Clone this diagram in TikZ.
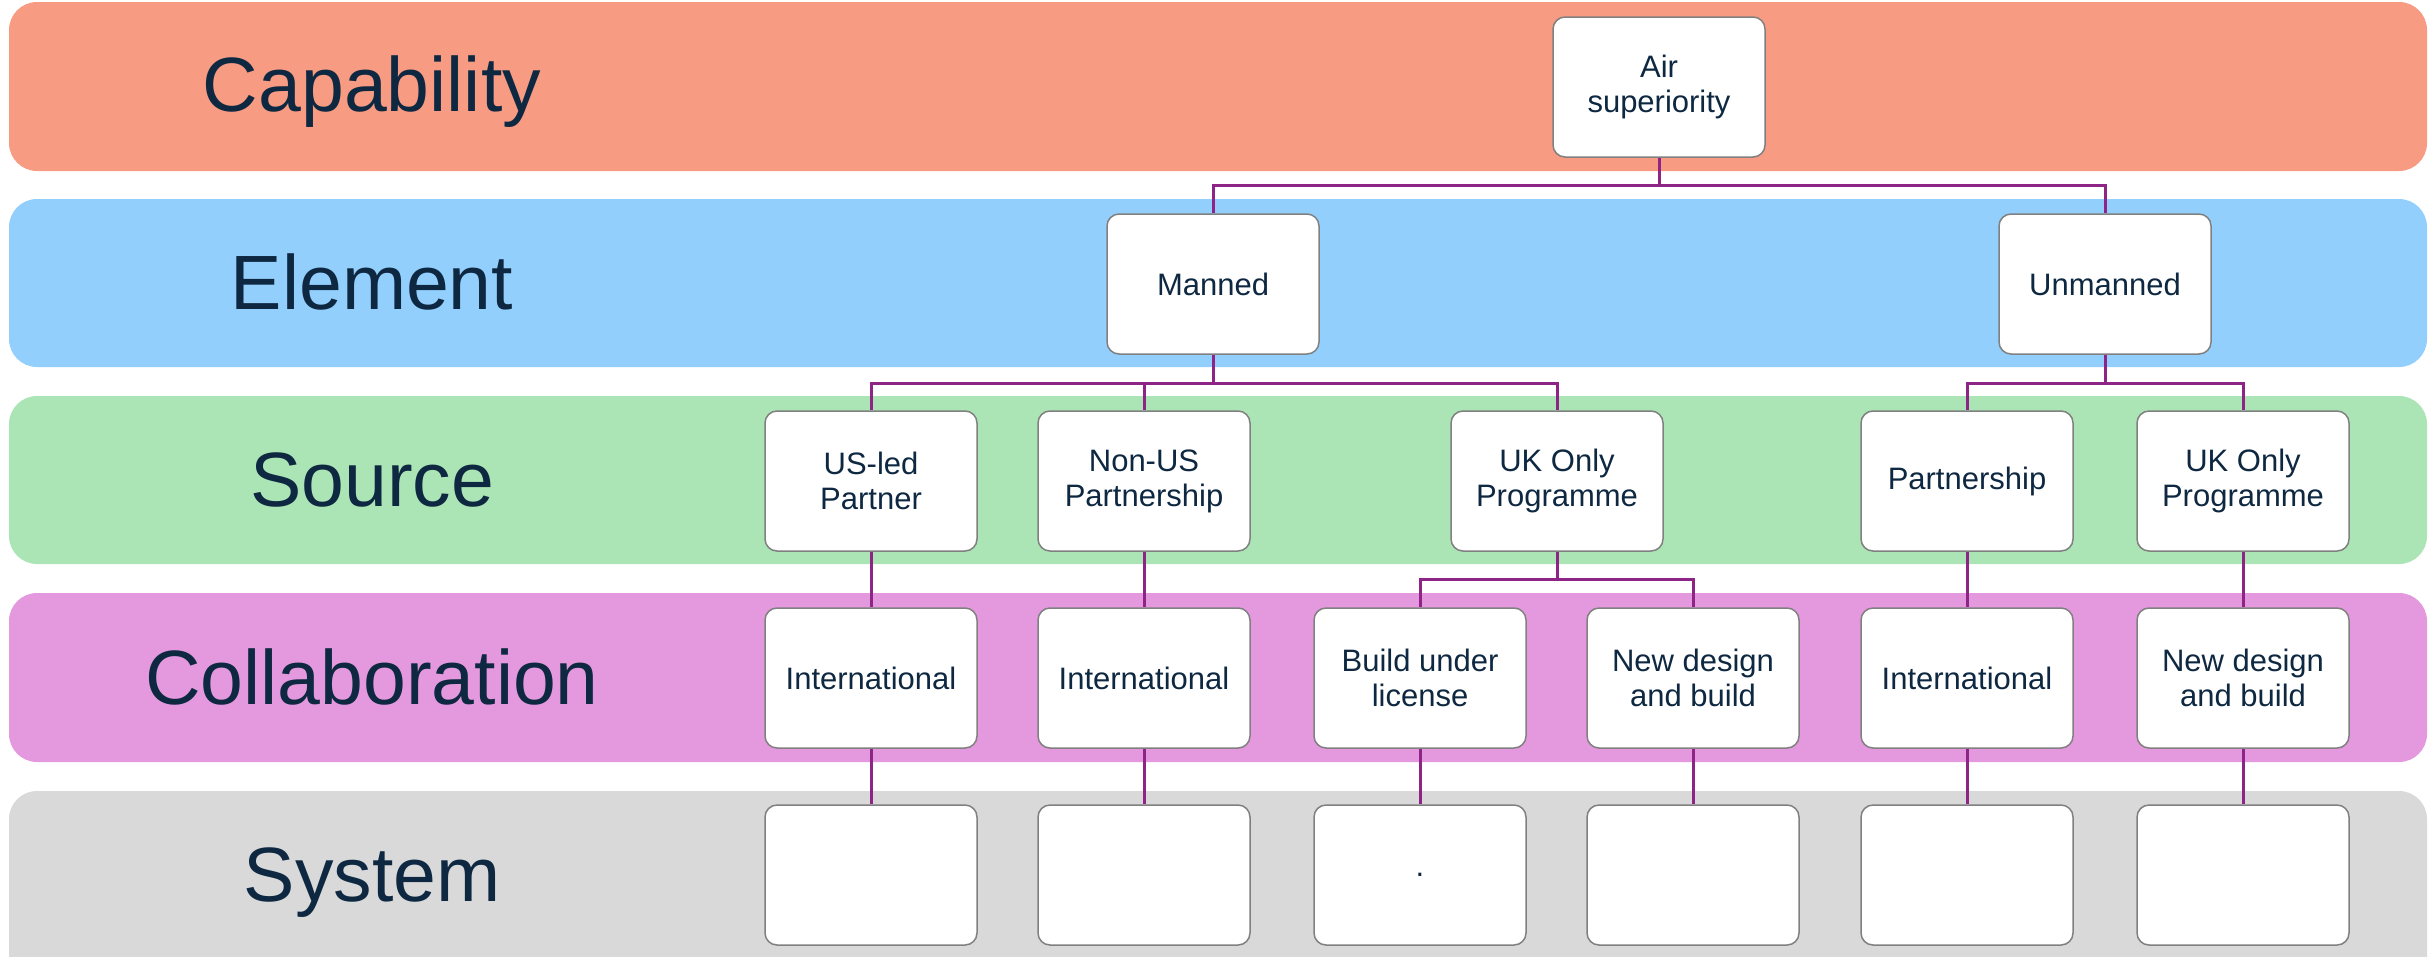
\documentclass[tikz,border=0pt]{standalone}
\usepackage{fontspec}
\setmainfont{Liberation Sans}
\definecolor{capc}{RGB}{247,155,130}
\definecolor{elec}{RGB}{147,207,253}
\definecolor{srcc}{RGB}{172,229,181}
\definecolor{colc}{RGB}{228,153,222}
\definecolor{sysc}{RGB}{217,217,217}
\definecolor{navy}{RGB}{14,40,65}
\definecolor{conc}{RGB}{142,36,134}
\definecolor{bordc}{RGB}{128,128,128}
\tikzset{
  band/.style={rounded corners=28pt},
  lab/.style={text=navy, font=\fontsize{77}{80}\selectfont, anchor=center,
    text height=55pt, text depth=0pt, inner sep=0pt},
  box/.style={draw=bordc, line width=1.5pt, fill=white, rounded corners=12pt,
    minimum width=212pt, minimum height=140pt, inner sep=0pt, align=center,
    text=navy, font=\fontsize{31}{35}\selectfont},
  conn/.style={draw=conc, line width=3pt}
}
\begin{document}
\begin{tikzpicture}[x=1pt,y=-1pt]
\useasboundingbox (0,0) rectangle (2433,956);
\clip (0,0) rectangle (2433,956);
% bands
\fill[capc,band] (9,2) rectangle (2427,171);
\fill[elec,band] (9,199) rectangle (2427,367);
\fill[srcc,band] (9,396) rectangle (2427,564);
\fill[colc,band] (9,593) rectangle (2427,762);
\fill[sysc,band] (9,791) rectangle (2427,985);
% labels
\node[lab] (lcap) at (372,84) {Capability};
\node[lab] (lele) at (372,282) {Element};
\node[lab] (lsrc) at (372,479) {Source};
\node[lab] (lcol) at (372,677) {Collaboration};
\node[lab] (lsys) at (372,874) {System};
% junction coordinates
\coordinate (j1) at (1659,185);
\coordinate (j2) at (1213,383);
\coordinate (j3) at (2105,383);
\coordinate (j4) at (1557,579);
% boxes
\path (1659,87) node[box] (air) {Air\\superiority};
\path (1213,284) node[box] (manned) {Manned};
\path (2105,284) node[box] (unmanned) {Unmanned};
\path (871,481) node[box] (s1) {US-led\\Partner};
\path (1144,481) node[box] (s2) {Non-US\\Partnership};
\path (1557,481) node[box] (s3) {UK Only\\Programme};
\path (1967,481) node[box] (s4) {Partnership};
\path (2243,481) node[box] (s5) {UK Only\\Programme};
\path (871,678) node[box] (c1) {International};
\path (1144,678) node[box] (c2) {International};
\path (1420,678) node[box] (c3) {Build under\\license};
\path (1693,678) node[box] (c4) {New design\\and build};
\path (1967,678) node[box] (c5) {International};
\path (2243,678) node[box] (c6) {New design\\and build};
\path (871,875) node[box] (y1) {};
\path (1144,875) node[box] (y2) {};
\path (1420,875) node[box] (y3) {.};
\path (1693,875) node[box] (y4) {};
\path (1967,875) node[box] (y5) {};
\path (2243,875) node[box] (y6) {};
% connectors
\draw[conn] (air.south) -- (j1);
\draw[conn] (j1) -| (manned.north);
\draw[conn] (j1) -| (unmanned.north);
\draw[conn] (manned.south) -- (j2);
\draw[conn] (j2) -| (s1.north);
\draw[conn] (j2) -| (s2.north);
\draw[conn] (j2) -| (s3.north);
\draw[conn] (unmanned.south) -- (j3);
\draw[conn] (j3) -| (s4.north);
\draw[conn] (j3) -| (s5.north);
\draw[conn] (s3.south) -- (j4);
\draw[conn] (j4) -| (c3.north);
\draw[conn] (j4) -| (c4.north);
\draw[conn] (s1.south) -- (c1.north);
\draw[conn] (s2.south) -- (c2.north);
\draw[conn] (s4.south) -- (c5.north);
\draw[conn] (s5.south) -- (c6.north);
\draw[conn] (c1.south) -- (y1.north);
\draw[conn] (c2.south) -- (y2.north);
\draw[conn] (c3.south) -- (y3.north);
\draw[conn] (c4.south) -- (y4.north);
\draw[conn] (c5.south) -- (y5.north);
\draw[conn] (c6.south) -- (y6.north);
\end{tikzpicture}
\end{document}
